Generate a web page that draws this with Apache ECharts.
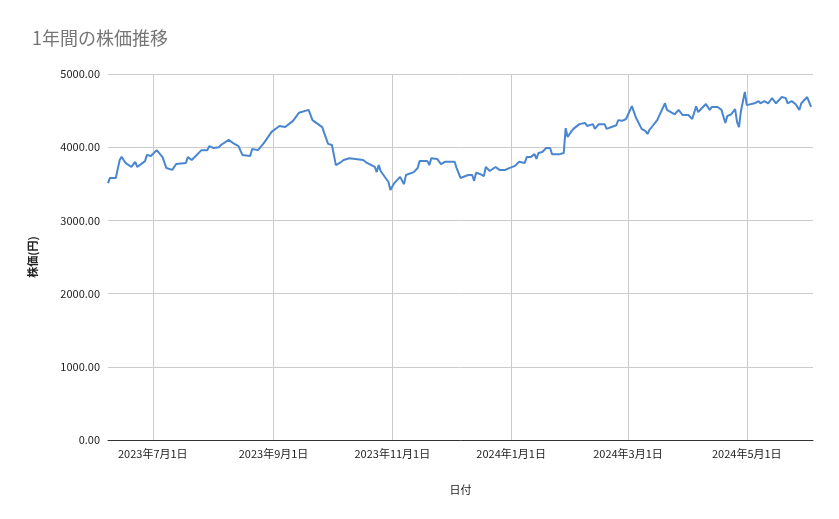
<!DOCTYPE html>
<html>
<head>
<meta charset="utf-8">
<script src="https://cdn.jsdelivr.net/npm/echarts@6/dist/echarts.min.js"></script>
<style>html,body{margin:0;padding:0;background:#fff}#chart{width:839px;height:519px}</style>
</head>
<body>
<div id="chart"></div>
<script>
// 2023-06-08 からの経過日数と株価
const startDate = "2023-06-08";
const dayOffsets = [0,1,4,6,7,9,12,14,15,19,20,22,25,28,30,33,35,40,41,43,48,51,52,54,55,57,58,62,64,67,69,73,74,77,80,84,88,91,95,98,103,105,110,111,113,115,117,119,121,124,125,127,131,133,134,137,138,139,140,141,144,145,147,150,151,152,153,157,159,160,164,165,166,167,169,171,173,178,179,181,185,187,188,189,191,193,194,196,199,201,204,206,209,211,214,215,216,217,219,220,221,223,225,227,228,232,234,235,236,238,239,242,243,245,246,249,250,252,255,256,261,262,264,266,267,269,270,271,274,276,277,278,282,286,287,291,293,295,298,300,302,303,307,309,310,313,315,317,318,320,322,323,324,325,327,328,332,334,335,337,339,341,343,346,348,349,351,353,355,356,359,361];
const prices = [3510,3580,3580,3825,3870,3785,3730,3800,3730,3810,3895,3880,3960,3865,3715,3690,3770,3785,3865,3825,3960,3960,4015,3990,3990,4000,4030,4100,4060,4015,3895,3880,3975,3960,4055,4210,4290,4275,4360,4470,4510,4370,4275,4195,4045,4030,3755,3785,3825,3850,3825,3840,3825,3785,3800,3730,3660,3755,3675,3690,3525,3415,3510,3595,3620,3495,3620,3660,3715,3810,3810,3755,3850,3865,3840,3770,3800,3800,3715,3580,3620,3620,3540,3650,3635,3605,3730,3675,3730,3690,3690,3715,3745,3800,3785,3865,3865,3865,3905,3840,3920,3935,3990,3990,3905,3905,3920,4260,4140,4220,4250,4315,4300,4330,4290,4315,4250,4315,4315,4250,4300,4370,4360,4385,4370,4560,4575,4410,4250,4220,4180,4235,4370,4600,4510,4450,4510,4440,4440,4385,4560,4480,4590,4510,4550,4550,4510,4330,4425,4450,4520,4345,4275,4495,4755,4575,4600,4630,4600,4630,4600,4670,4600,4685,4670,4600,4630,4590,4510,4600,4685,4550];
const tickDates = ["2023-07-01","2023-09-01","2023-11-01","2024-01-01","2024-03-01","2024-05-01"];
const endDate = "2024-06-04";

const DAY = 86400000;
const t0 = Date.parse(startDate + "T00:00:00Z");
const seriesData = dayOffsets.map((d, i) => [t0 + d * DAY, prices[i]]);
const tickValues = tickDates.map(s => Date.parse(s + "T00:00:00Z"));

const chart = echarts.init(document.getElementById("chart"));
chart.setOption({
  animation: false,
  textStyle: { fontFamily: "Noto Sans CJK JP, Roboto, sans-serif" },
  title: {
    text: "1年間の株価推移", left: 27, top: 24,
    textStyle: { color: "#757575", fontSize: 18, fontWeight: "normal" }
  },
  grid: { left: 108, right: 26, top: 74, bottom: 79 },
  xAxis: {
    type: "value",
    min: t0, max: Date.parse(endDate + "T00:00:00Z"),
    name: "日付", nameLocation: "middle", nameGap: 44,
    nameTextStyle: { color: "#222", fontSize: 11 },
    axisLine: { show: true, lineStyle: { color: "#333" } },
    axisTick: { show: false, customValues: tickValues },
    axisLabel: {
      customValues: tickValues, color: "#222", fontSize: 11, margin: 8,
      formatter: v => { const d = new Date(v); return d.getUTCFullYear() + "年" + (d.getUTCMonth() + 1) + "月" + d.getUTCDate() + "日"; }
    },
    splitLine: { show: true, lineStyle: { color: "#ccc" } }
  },
  yAxis: {
    type: "value", min: 0, max: 5000, interval: 1000,
    name: "株価(円)", nameLocation: "middle", nameGap: 70, nameRotate: 90,
    nameTextStyle: { color: "#222", fontSize: 11, fontWeight: "bold" },
    axisLine: { show: false }, axisTick: { show: false },
    axisLabel: { color: "#222", fontSize: 11, formatter: v => v.toFixed(2) },
    splitLine: { lineStyle: { color: "#ccc" } }
  },
  series: [{
    type: "line", data: seriesData, showSymbol: false,
    lineStyle: { color: "#4a86d0", width: 2 }
  }]
});
</script>
</body>
</html>
